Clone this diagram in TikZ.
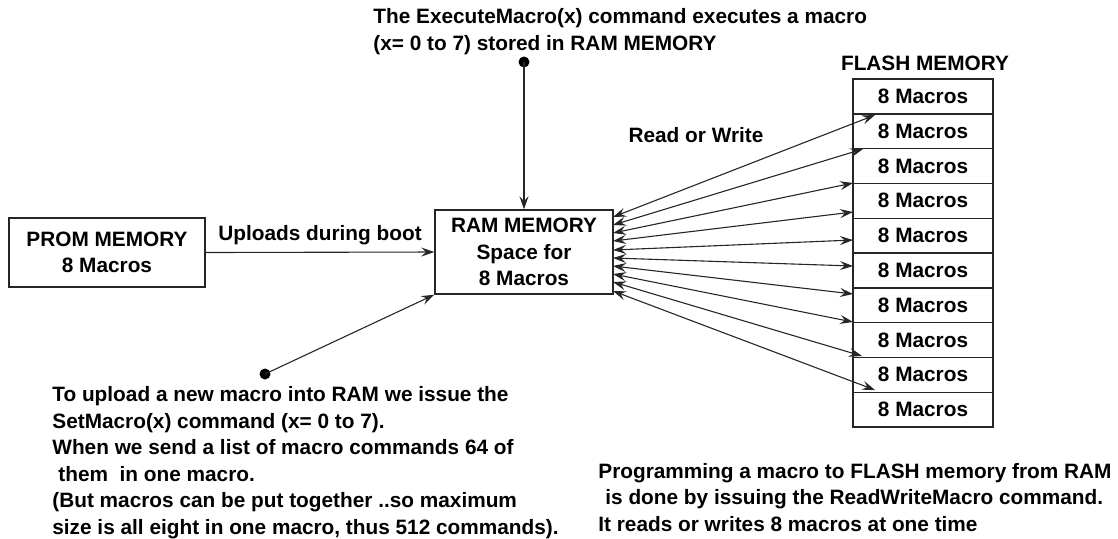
\documentclass[tikz,border=0pt]{standalone}
\usepackage{fontspec}
\setmainfont{Liberation Sans}
\usetikzlibrary{arrows.meta}
\begin{document}
\begin{tikzpicture}[x=0.5pt,y=-0.5pt,
  every node/.style={font=\bfseries\fontsize{10.4}{13.25}\selectfont,inner sep=0pt},
  box/.style={draw=black!85,line width=0.7pt,align=center},
  fbox/.style={box,minimum width=70pt,minimum height=17.4pt},
  conn/.style={draw=black!85,line width=0.55pt},
  tip/.style={-{Stealth[length=6.5pt,width=4.5pt,inset=2.4pt]}},
  dtip/.style={{Stealth[length=6.5pt,width=4.5pt,inset=2.4pt]}-{Stealth[length=6.5pt,width=4.5pt,inset=2.4pt]}},
  dotstyle/.style={circle,fill=black,minimum size=5.5pt,inner sep=0pt}]
\useasboundingbox (0,0) rectangle (1118,538);

% boxes
\node[box,minimum width=98pt,minimum height=34.5pt] (prom) at (107,252.5) {PROM MEMORY\\8 Macros};
\node[box,minimum width=89pt,minimum height=42pt] (ram) at (524,252) {RAM MEMORY\\Space for\\8 Macros};

\foreach \i in {1,...,10}{
  \node[fbox] (f\i) at (923,{79+34.8*(\i-0.5)}) {8 Macros};
}
\node (flashlbl) at (925,63) {FLASH MEMORY};

% labels
\node (upl) at (320,235) {Uploads during boot};
\node (rw) at (696,135) {Read or Write};

\node[anchor=base west,align=left] (toptext) at (373,50)
  {The ExecuteMacro(x) command executes a macro\\(x= 0 to 7) stored in RAM MEMORY};
\node[anchor=base west,align=left] (bltext) at (52,534)
  {To upload a new macro into RAM we issue the\\
   SetMacro(x) command (x= 0 to 7).\\
   When we send a list of macro commands 64 of\\
   \hspace*{3pt}them\ \ in one macro.\\
   (But macros can be put together ..so maximum\\
   size is all eight in one macro, thus 512 commands).};
\node[anchor=base west,align=left] (brtext) at (598,531)
  {Programming a macro to FLASH memory from RAM\\
   \hspace*{3.5pt}is done by issuing the ReadWriteMacro command.\\
   It reads or writes 8 macros at one time};

% dots
\node[dotstyle] (d1) at (524,62) {};
\node[dotstyle] (d2) at (265,374) {};

% connectors
\draw[conn,tip] (prom.east) -- (ram.west);
\draw[conn,tip] (d1.center) -- (ram.north);
\draw[conn,tip] (d2.center) -- (ram.south west);

% fan coordinates
\foreach \i/\ly/\rx/\ry in {1/217/875/115, 2/225/863/149, 3/233/853/183, 4/241/853/212, 5/250/853/240,
                           6/258/853/266, 7/266/853/294, 8/274/853/322, 9/282/862/356, 10/291/875/390}{
  \coordinate (l\i) at (613,\ly);
  \coordinate (r\i) at (\rx,\ry);
  \draw[conn,dtip] (l\i) -- (r\i);
}
\end{tikzpicture}
\end{document}
